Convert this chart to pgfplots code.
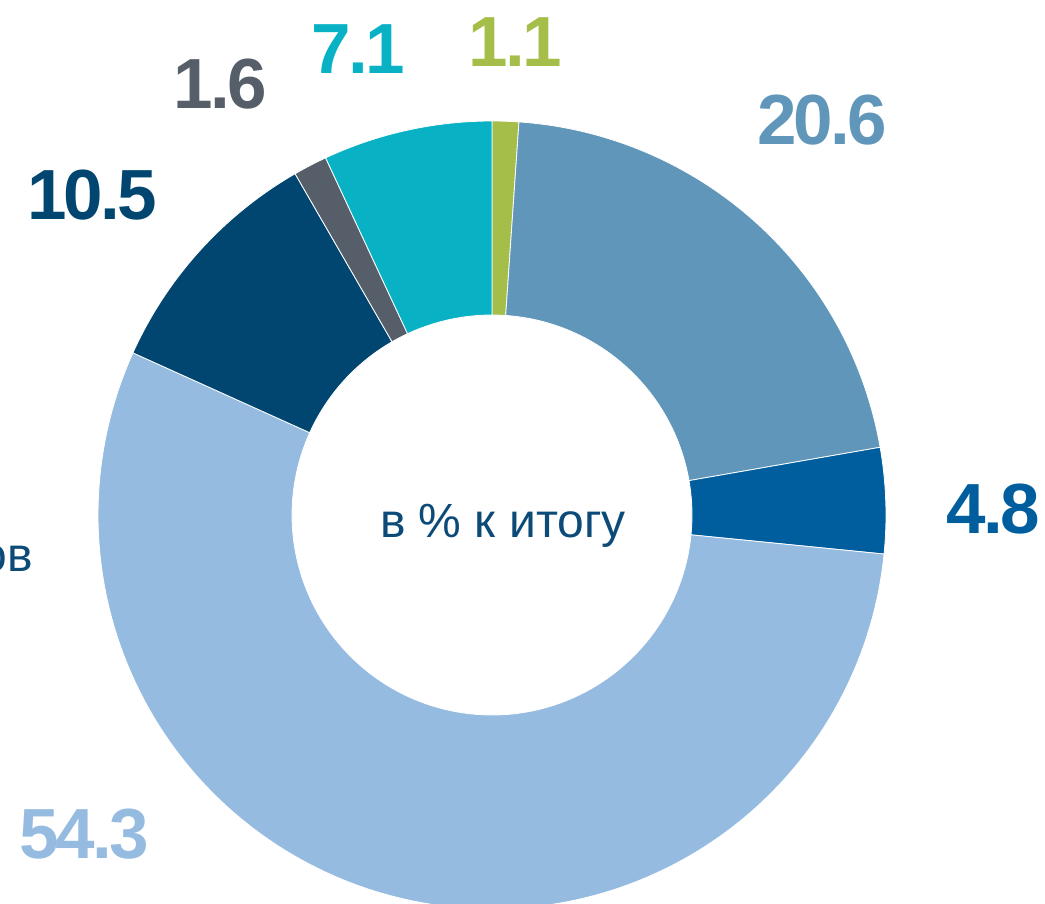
\documentclass[border=0pt]{standalone}
\usepackage{pgfplots}
\pgfplotsset{compat=1.18}
\usepackage{pgfplotstable}
\usepackage{fontspec}
\setmainfont{Liberation Sans}
\newfontfamily\lblfont{Liberation Sans}[LetterSpace=-4]

\definecolor{cgreen}{RGB}{165,190,74}
\definecolor{csteel}{RGB}{96,150,185}
\definecolor{cmid}{RGB}{0,94,158}
\definecolor{clight}{RGB}{149,187,224}
\definecolor{cnavy}{RGB}{0,70,112}
\definecolor{cgray}{RGB}{85,94,105}
\definecolor{ccyan}{RGB}{8,178,196}
\definecolor{ctext}{RGB}{12,74,120}

% sector sizes as drawn, printed labels, colours;
% clockwise from the top
\pgfplotstableread{
share label col
1.09 1.1 cgreen
21.16 20.6 csteel
4.33 4.8 cmid
55.17 54.3 clight
9.92 10.5 cnavy
1.39 1.6 cgray
6.94 7.1 ccyan
}\donutdata

\def\cx{492}
\def\cy{388}
\def\ro{394}
\def\ri{200}

\xdef\curang{90}
\foreach \i in {0,...,6}{%
  \pgfplotstablegetelem{\i}{share}\of\donutdata
  \pgfmathsetmacro\s{\curang}%
  \pgfmathsetmacro\e{\curang-3.6*\pgfplotsretval}%
  \pgfmathsetmacro\ix{\cx+\ri*cos(\s)}%
  \pgfmathsetmacro\iy{\cy+\ri*sin(\s)}%
  \expandafter\xdef\csname slS\i\endcsname{\s}%
  \expandafter\xdef\csname slE\i\endcsname{\e}%
  \expandafter\xdef\csname slX\i\endcsname{\ix}%
  \expandafter\xdef\csname slY\i\endcsname{\iy}%
  \pgfplotstablegetelem{\i}{col}\of\donutdata
  \expandafter\xdef\csname slC\i\endcsname{\pgfplotsretval}%
  \pgfplotstablegetelem{\i}{label}\of\donutdata
  \expandafter\xdef\csname slL\i\endcsname{\pgfplotsretval}%
  \xdef\curang{\e}%
}

\newcommand\drawslice[1]{%
  \edef\temp{\noexpand\addplot[fill=\csname slC#1\endcsname, draw=white, line width=0.8pt,
    domain=\csname slE#1\endcsname:\csname slS#1\endcsname, samples=150]
    ({\cx+\ro*cos(x)},{\cy+\ro*sin(x)})
    -- (axis cs:\csname slX#1\endcsname,\csname slY#1\endcsname)
    arc[start angle=\csname slS#1\endcsname, end angle=\csname slE#1\endcsname, radius=\ri pt] -- cycle;}%
  \temp}

\begin{document}
\begin{tikzpicture}
\begin{axis}[scale only axis, width=1045pt, height=903pt,
  xmin=0, xmax=1045, ymin=0, ymax=903, hide axis, clip=true]
\drawslice{0}
\drawslice{1}
\drawslice{2}
\drawslice{3}
\drawslice{4}
\drawslice{5}
\drawslice{6}
\tikzset{lbl/.style={inner sep=0pt, font=\lblfont\bfseries\fontsize{71}{80}\selectfont}}
\node[lbl, text=cgreen] at (axis cs:515,861) {\csname slL0\endcsname};
\node[lbl, text=csteel] at (axis cs:822,783) {\csname slL1\endcsname};
\node[lbl, text=cmid] at (axis cs:993,394) {\csname slL2\endcsname};
\node[lbl, text=clight] at (axis cs:84,69) {\csname slL3\endcsname};
\node[lbl, text=cnavy] at (axis cs:92,708) {\csname slL4\endcsname};
\node[lbl, text=cgray] at (axis cs:220,819) {\csname slL5\endcsname};
\node[lbl, text=ccyan] at (axis cs:358,854) {\csname slL6\endcsname};
\node[inner sep=0pt, anchor=base, text=ctext, font=\fontsize{48}{56}\selectfont] at (axis cs:503,365) {в \% к итогу};
\node[inner sep=0pt, anchor=base east, text=ctext, font=\fontsize{48}{56}\selectfont] at (axis cs:33,331) {ов};
\end{axis}
\pgfresetboundingbox
\useasboundingbox (current axis.south west) rectangle (current axis.north east);
\end{tikzpicture}
\end{document}
